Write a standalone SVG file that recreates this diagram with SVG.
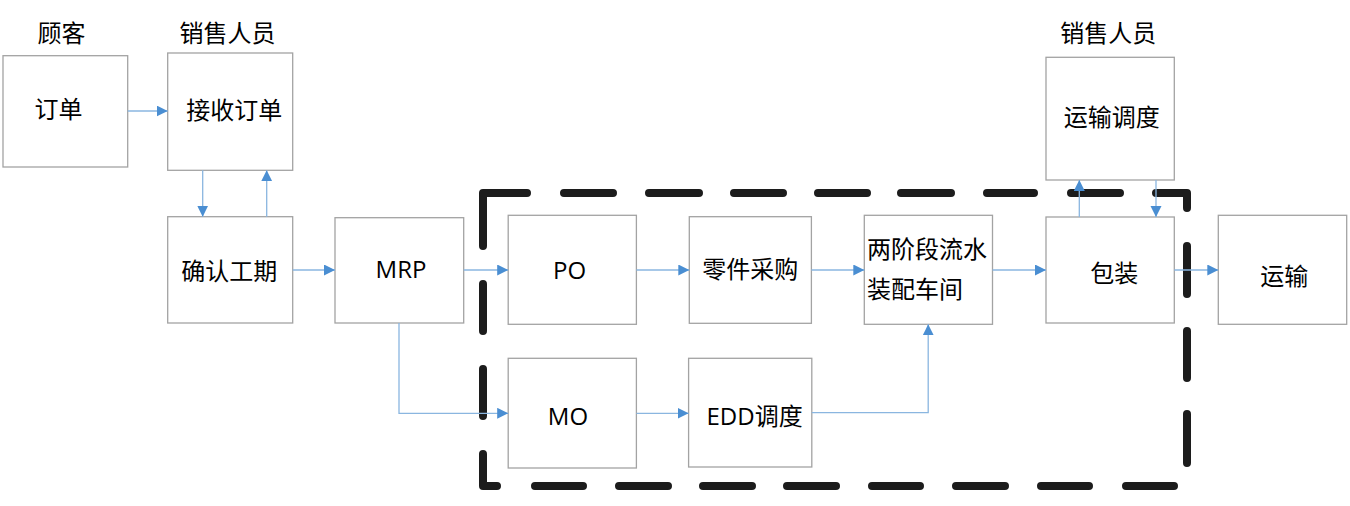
<svg xmlns="http://www.w3.org/2000/svg" width="1350" height="506" viewBox="0 0 1350 506">
<style>
.box{fill:#fff;stroke:#a3a3a3;stroke-width:1.3}
.t{font-family:"Open Sans","Noto Sans CJK SC",sans-serif;font-size:24px;fill:#000;text-anchor:middle}
.ts{text-anchor:start}
.c{fill:none;stroke:#8ab6e0;stroke-width:1.3}
.b{fill:none;stroke:#1c1c1c;stroke-width:8;stroke-linecap:round;stroke-linejoin:round}
</style>
<defs>
<marker id="ah" markerUnits="userSpaceOnUse" markerWidth="12" markerHeight="12" refX="11" refY="5.5" orient="auto">
<path d="M0,0 L11,5.5 L0,11 z" fill="#4a8ed2"/>
</marker>
</defs>
<rect width="1350" height="506" fill="#fff"/>
<g id="lanes">
<text class="t" x="61.5" y="41.6">顾客</text>
<text class="t" x="227.5" y="41.6">销售人员</text>
<text class="t" x="1108.3" y="41.6">销售人员</text>
</g>
<g id="boundary">
<path class="b" d="M483,246 L483,193 L527,193 M564,193 H613 M649,193 H699 M734,193 H783 M818,193 H867 M901,193 H951 M987,193 H1034 M1071,193 H1120 M1156,193 H1187 V208 M1187,246 V294 M1187,331 V378 M1187,414 V463 M1174,486 H1126 M1089,486 H1041 M1005,486 H956 M920,486 H872 M836,486 H787 M752,486 H703 M668,486 H619 M583,486 H535 M497,486 H483 V454 M483,416 V369 M483,331 V284"/>
</g>
<g id="n-order"><rect class="box" x="3" y="55.7" width="124.7" height="111.3"/><text class="t" x="58.5" y="118">订单</text></g>
<g id="n-receive"><rect class="box" x="167.7" y="53" width="125" height="117.3"/><text class="t" x="234.2" y="119">接收订单</text></g>
<g id="n-confirm"><rect class="box" x="167.7" y="216.7" width="125" height="106.3"/><text class="t" x="229.2" y="280">确认工期</text></g>
<g id="n-mrp"><rect class="box" x="335" y="217.7" width="128.7" height="105.3"/><text class="t" x="401" y="278">MRP</text></g>
<g id="n-po"><rect class="box" x="508.2" y="215.3" width="128.2" height="109"/><text class="t" x="569.6" y="279">PO</text></g>
<g id="n-parts"><rect class="box" x="689.3" y="216.7" width="122.1" height="106.6"/><text class="t" x="750.2" y="278">零件采购</text></g>
<g id="n-assembly"><rect class="box" x="864.3" y="215.3" width="128.2" height="109"/><text class="t ts" x="867" y="258">两阶段流水</text><text class="t ts" x="867" y="298">装配车间</text></g>
<g id="n-mo"><rect class="box" x="508.2" y="358.3" width="128.2" height="109.7"/><text class="t" x="568" y="425">MO</text></g>
<g id="n-edd"><rect class="box" x="688.6" y="358.3" width="123.2" height="108.7"/><text class="t" x="754.6" y="425">EDD调度</text></g>
<g id="n-dispatch"><rect class="box" x="1046" y="57.3" width="128.3" height="122.7"/><text class="t" x="1111.7" y="125.5">运输调度</text></g>
<g id="n-pack"><rect class="box" x="1046" y="217" width="128.3" height="106"/><text class="t" x="1114.2" y="282">包装</text></g>
<g id="n-ship"><rect class="box" x="1218.3" y="215.3" width="128.4" height="109"/><text class="t" x="1284.2" y="285">运输</text></g>
<g id="connectors">
<path class="c" marker-end="url(#ah)" d="M127.7,111 H167.7"/>
<path class="c" marker-end="url(#ah)" d="M202.7,170.3 V216.7"/>
<path class="c" marker-end="url(#ah)" d="M266.7,216.7 V170.3"/>
<path class="c" marker-end="url(#ah)" d="M292.7,270 H335"/>
<path class="c" marker-end="url(#ah)" d="M463.7,270 H508.2"/>
<path class="c" marker-end="url(#ah)" d="M399,323 V413.3 H508.2"/>
<path class="c" marker-end="url(#ah)" d="M636.4,270 H689.3"/>
<path class="c" marker-end="url(#ah)" d="M811.4,270 H864.3"/>
<path class="c" marker-end="url(#ah)" d="M636.4,413.3 H688.6"/>
<path class="c" marker-end="url(#ah)" d="M811.8,412.7 H928.2 V324.3"/>
<path class="c" marker-end="url(#ah)" d="M992.5,270 H1046"/>
<path class="c" marker-end="url(#ah)" d="M1079.3,217 V180"/>
<path class="c" marker-end="url(#ah)" d="M1156,180 V217"/>
<path class="c" marker-end="url(#ah)" d="M1174.3,270 H1218.3"/>
</g>
</svg>
